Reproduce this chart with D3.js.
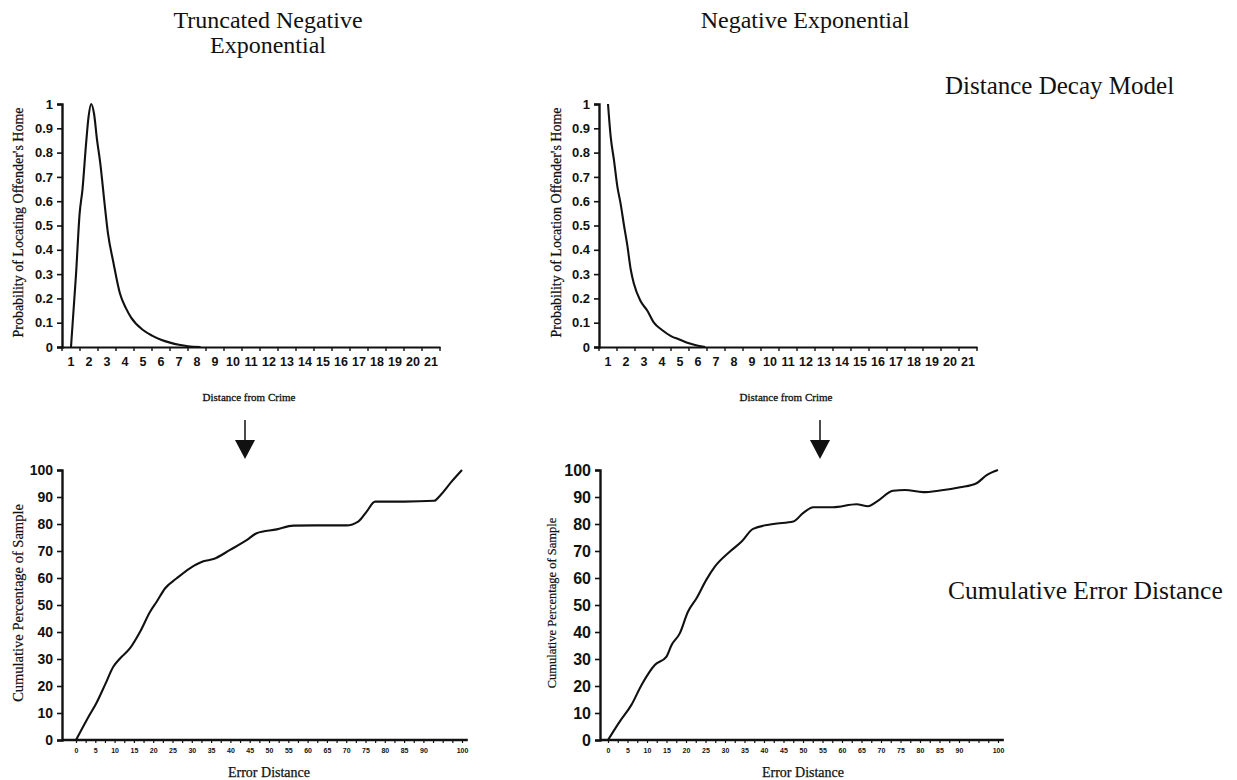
<!DOCTYPE html>
<html><head><meta charset="utf-8">
<script src="https://cdn.jsdelivr.net/npm/d3@7"></script>
<style>
html,body{margin:0;padding:0;background:#fff;}
svg{display:block;font-family:"Liberation Serif","Times New Roman",serif;}
</style></head><body>
<svg id="chart" width="1237" height="780"></svg>
<script>
// ---- distance decay curves (probability of locating the offender's home) ----
const distanceCategories = ["1","2","3","4","5","6","7","8","9","10","11","12","13","14","15","16","17","18","19","20","21"];
const probabilityTicks = [0,0.1,0.2,0.3,0.4,0.5,0.6,0.7,0.8,0.9,1];

const truncatedDistance    = [1, 1.28, 1.48, 1.64, 1.83, 1.98, 2.12, 2.28, 2.45, 2.62, 2.88, 3.05, 3.35, 3.72, 4.05, 4.35, 5.0, 5.5, 6.0, 6.5, 7.0, 7.5, 8.2];
const truncatedProbability = [0, 0.30, 0.55, 0.65, 0.83, 0.95, 1.0, 0.96, 0.85, 0.76, 0.58, 0.47, 0.35, 0.22, 0.16, 0.12, 0.07, 0.047, 0.03, 0.018, 0.009, 0.003, 0];

const negExpDistance    = [1, 1.15, 1.33, 1.52, 1.7, 1.89, 2.07, 2.26, 2.44, 2.8, 3.18, 3.55, 4.0, 4.5, 5.0, 5.5, 6.0, 6.4];
const negExpProbability = [1.0, 0.865, 0.77, 0.66, 0.59, 0.5, 0.42, 0.32, 0.26, 0.19, 0.15, 0.1, 0.07, 0.045, 0.03, 0.015, 0.005, 0];

// ---- cumulative error distance curves ----
const errorTickLabels = [0,5,10,15,20,25,30,35,40,45,50,55,60,65,70,75,80,85,90,100];
const percentTicks = [0,10,20,30,40,50,60,70,80,90,100];

const truncErrDistance = [0, 3, 5.4, 7.5, 9.7, 11.4, 14, 16.6, 19.2, 20.9, 23.1, 26.1, 29.5, 33, 35.6, 39.9, 44.2, 46.8, 52, 56.3, 62, 70, 73.2, 75.3, 77.5, 85, 92.8, 94.3, 97.3, 100];
const truncErrPercent  = [0, 8, 14, 20.4, 27.2, 30.2, 34, 40.1, 47.5, 51.2, 56.2, 59.9, 63.6, 66.2, 67, 70.4, 74, 76.6, 78, 79.4, 79.5, 79.5, 81, 84.6, 88.3, 88.3, 88.6, 90.5, 95.7, 100];

const negErrDistance = [0, 3, 6, 8.6, 12, 15, 16.3, 18.4, 20.5, 22.7, 25.2, 27.4, 31.2, 34.2, 37.2, 42.4, 47.5, 50, 52.6, 57.7, 63.7, 66.7, 68.9, 73.1, 76.2, 80.8, 85.1, 90.3, 94.5, 97.1, 100];
const negErrPercent  = [0, 6.8, 13, 20.4, 27.8, 30.9, 35.2, 39.5, 47.5, 52.5, 59.3, 64.2, 69.7, 73.4, 78.2, 80, 80.9, 84, 86.2, 86.2, 87.3, 86.6, 88.3, 92.3, 92.6, 91.8, 92.4, 93.6, 95.1, 98.1, 100];

const svg = d3.select("#chart");
const ink = "#111";

function zip(xs, ys) { return xs.map((x, i) => [x, ys[i]]); }

// Decay-model panel: banded distance categories, probability 0..1
function decayPanel(o) {
  const g = svg.append("g");
  const band = d3.scaleBand().domain(distanceCategories).range([o.left, o.right]).paddingInner(0).paddingOuter(0);
  const y = d3.scaleLinear().domain([0, 1]).range([o.bottom, o.top]);
  const xl = d3.scaleLinear()
    .domain([1, 21])
    .range([band("1") + band.bandwidth() / 2, band("21") + band.bandwidth() / 2]);

  const yAxis = d3.axisLeft(y).tickValues(probabilityTicks)
    .tickFormat(d => (d === 0 || d === 1) ? String(d) : d.toFixed(1))
    .tickSize(5).tickPadding(4);
  const ya = g.append("g").attr("transform", `translate(${o.left},0)`).call(yAxis);
  ya.select(".domain").attr("stroke", ink).attr("stroke-width", 2.4);
  ya.selectAll(".tick line").attr("stroke", ink).attr("stroke-width", 1.6);
  ya.selectAll("text").attr("font-size", 13).attr("font-weight", "bold").attr("fill", ink);

  const xAxis = d3.axisBottom(band).tickSize(0).tickPadding(10);
  const xa = g.append("g").attr("transform", `translate(0,${o.bottom})`).call(xAxis);
  xa.select(".domain").attr("stroke", ink).attr("stroke-width", 2.2);
  xa.selectAll("text").attr("font-size", 12.5).attr("font-weight", "bold").attr("fill", ink);
  // tick marks on the category boundaries
  const bounds = distanceCategories.map(c => band(c)).concat([o.right]);
  g.append("g").selectAll("line").data(bounds).join("line")
    .attr("x1", d => d).attr("x2", d => d)
    .attr("y1", o.bottom).attr("y2", o.bottom + 4)
    .attr("stroke", ink).attr("stroke-width", 1.4);

  g.append("path").datum(zip(o.xs, o.ys))
    .attr("fill", "none").attr("stroke", ink).attr("stroke-width", 2.1)
    .attr("stroke-linejoin", "round")
    .attr("d", d3.line().x(d => xl(d[0])).y(d => y(d[1])).curve(d3.curveMonotoneX));

  g.append("text").attr("transform", `translate(${o.ytitleX},${(o.top + o.bottom) / 2 - 3}) rotate(-90)`)
    .attr("text-anchor", "middle").attr("font-size", 14).attr("fill", ink)
    .attr("stroke", ink).attr("stroke-width", 0.25).text(o.ytitle);
  g.append("text").attr("x", (o.left + o.right) / 2 - 2).attr("y", o.bottom + 54)
    .attr("text-anchor", "middle").attr("font-size", 11).attr("fill", ink)
    .attr("stroke", ink).attr("stroke-width", 0.3).text("Distance from Crime");
}

// Error-distance panel: distance 0..100, cumulative percent 0..100
function errorPanel(o) {
  const g = svg.append("g");
  const x = d3.scaleLinear().domain([0, 100]).range([o.x0, o.x100]);
  const y = d3.scaleLinear().domain([0, 100]).range([o.bottom, o.top]);

  const yAxis = d3.axisLeft(y).tickValues(percentTicks).tickSize(5).tickPadding(4);
  const ya = g.append("g").attr("transform", `translate(${o.left},0)`).call(yAxis);
  ya.select(".domain").attr("stroke", ink).attr("stroke-width", 2.4);
  ya.selectAll(".tick line").attr("stroke", ink).attr("stroke-width", 1.6);
  ya.selectAll("text").attr("font-size", o.tickFont).attr("font-weight", "bold").attr("fill", ink);

  const xa = g.append("g").attr("transform", `translate(0,${o.bottom})`)
    .call(d3.axisBottom(x).tickValues(errorTickLabels).tickSize(0).tickPadding(8));
  xa.select(".domain").remove();
  xa.selectAll("text").attr("font-size", 7).attr("font-weight", "bold").attr("fill", ink);
  const minor = g.append("g").attr("transform", `translate(0,${o.bottom})`)
    .call(d3.axisBottom(x).tickValues(d3.range(0, 101, 2.5)).tickFormat("").tickSize(3));
  minor.select(".domain").remove();
  minor.selectAll("line").attr("stroke", ink).attr("stroke-width", 1.2);
  g.append("line").attr("x1", o.left).attr("x2", x(101.5))
    .attr("y1", o.bottom).attr("y2", o.bottom)
    .attr("stroke", ink).attr("stroke-width", 2.4);

  g.append("path").datum(zip(o.xs, o.ys))
    .attr("fill", "none").attr("stroke", ink).attr("stroke-width", 2.1)
    .attr("stroke-linejoin", "round")
    .attr("d", d3.line().x(d => x(d[0])).y(d => y(d[1])).curve(d3.curveMonotoneX));

  g.append("text").attr("transform", `translate(${o.ytitleX},${(o.top + o.bottom) / 2 - 2}) rotate(-90)`)
    .attr("text-anchor", "middle").attr("font-size", o.ytitleFont).attr("fill", ink)
    .attr("stroke", ink).attr("stroke-width", 0.2).text("Cumulative Percentage of Sample");
  g.append("text").attr("x", (o.x0 + o.x100) / 2).attr("y", 777)
    .attr("text-anchor", "middle").attr("font-size", 14).attr("fill", ink)
    .attr("stroke", ink).attr("stroke-width", 0.25).text("Error Distance");
}

decayPanel({ left: 62, right: 440, top: 104, bottom: 347, xs: truncatedDistance, ys: truncatedProbability,
  ytitle: "Probability of Locating Offender's Home", ytitleX: 23 });
decayPanel({ left: 599, right: 977, top: 104, bottom: 347, xs: negExpDistance, ys: negExpProbability,
  ytitle: "Probability of Location Offender's Home", ytitleX: 561 });

errorPanel({ left: 62, x0: 76, x100: 462, top: 470, bottom: 740, xs: truncErrDistance, ys: truncErrPercent,
  tickFont: 14, ytitleX: 23, ytitleFont: 14.5 });
errorPanel({ left: 600, x0: 608, x100: 998, top: 470, bottom: 740, xs: negErrDistance, ys: negErrPercent,
  tickFont: 16, ytitleX: 556, ytitleFont: 12.5 });

// headings
const heads = svg.append("g").attr("fill", ink);
heads.append("text").attr("x", 268).attr("y", 28).attr("text-anchor", "middle").attr("font-size", 24).text("Truncated Negative");
heads.append("text").attr("x", 268).attr("y", 53).attr("text-anchor", "middle").attr("font-size", 24).text("Exponential");
heads.append("text").attr("x", 805).attr("y", 28).attr("text-anchor", "middle").attr("font-size", 24).text("Negative Exponential");
heads.append("text").attr("x", 945).attr("y", 94).attr("font-size", 25).text("Distance Decay Model");
heads.append("text").attr("x", 948).attr("y", 599).attr("font-size", 25.5).text("Cumulative Error Distance");

// arrows from the decay models down to their error curves
[245, 820].forEach(cx => {
  heads.append("line").attr("x1", cx).attr("x2", cx).attr("y1", 420).attr("y2", 444)
    .attr("stroke", ink).attr("stroke-width", 1.5);
  heads.append("path").attr("d", `M${cx - 10},440 L${cx + 10},440 L${cx},459 Z`).attr("fill", ink);
});
</script>
</body></html>
